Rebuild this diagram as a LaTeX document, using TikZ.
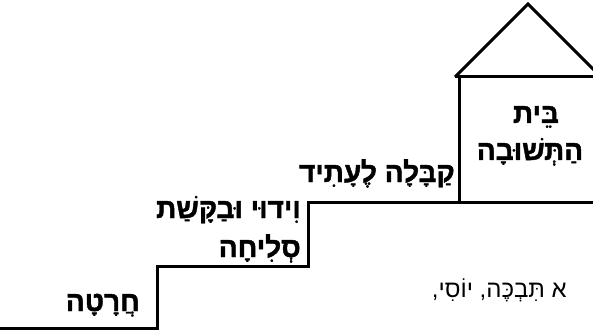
\documentclass[tikz,border=0pt]{standalone}
\usepackage{fontspec}
\newfontfamily\heb[Script=Hebrew]{Liberation Sans}
\IfFontExistsTF{Liberation Sans Bold}
  {\newfontfamily\hebbold[Script=Hebrew, FakeBold=1.5]{Liberation Sans Bold}}
  {\newfontfamily\hebbold[Script=Hebrew, FakeBold=3]{Liberation Sans}}
\TeXXeTstate=1
\begin{document}
\begin{tikzpicture}[x=1pt,y=-1pt,
  stroke/.style={line width=3pt, line join=miter},
  lbl/.style={inner sep=0pt, font=\hebbold\fontsize{28}{30}\selectfont},
  plain/.style={inner sep=0pt, font=\heb\fontsize{24}{28}\selectfont}]
\useasboundingbox (0,0) rectangle (593,331);
\clip (0,0) rectangle (593,331);
% staircase
\coordinate (s0) at (-5,328);
\coordinate (s1) at (157,328);
\coordinate (s2) at (157,266);
\coordinate (s3) at (308,266);
\coordinate (s4) at (308,202);
\coordinate (s5) at (610,202);
\draw[stroke] (s0) -- (s1) -- (s2) -- (s3) -- (s4) -- (s5);
% house
\coordinate (wl) at (459,202);
\coordinate (wt) at (459,77);
\coordinate (rl) at (455,77);
\coordinate (rr) at (610,77);
\coordinate (apex) at (528,4);
\coordinate (rend) at (601,77);
\draw[stroke] (wl) -- (wt);
\draw[stroke] (rl) -- (rr);
\draw[stroke] (rl) -- (apex) -- (rend);
% labels
\node[lbl, anchor=base east] (t1) at (140,311) {\beginR חֲרָטָה\endR};
\node[lbl, anchor=base east] (t2a) at (301,218) {\beginR וִידוּי וּבַקָּשַׁת\endR};
\node[lbl, anchor=base east] (t2b) at (301,257) {\beginR סְלִיחָה\endR};
\node[lbl, anchor=base east] (t3) at (455,182) {\beginR קַבָּלָה לֶעָתִיד\endR};
\node[lbl, anchor=base] (t4a) at (536,123) {\beginR בֵּית\endR};
\node[lbl, anchor=base] (t4b) at (530,160) {\beginR הַתְּשׁוּבָה\endR};
\node[plain, anchor=base east] (t5) at (567,297) {\beginR א תִּבְכֶּה, יוֹסִי,\endR};
\end{tikzpicture}
\end{document}
